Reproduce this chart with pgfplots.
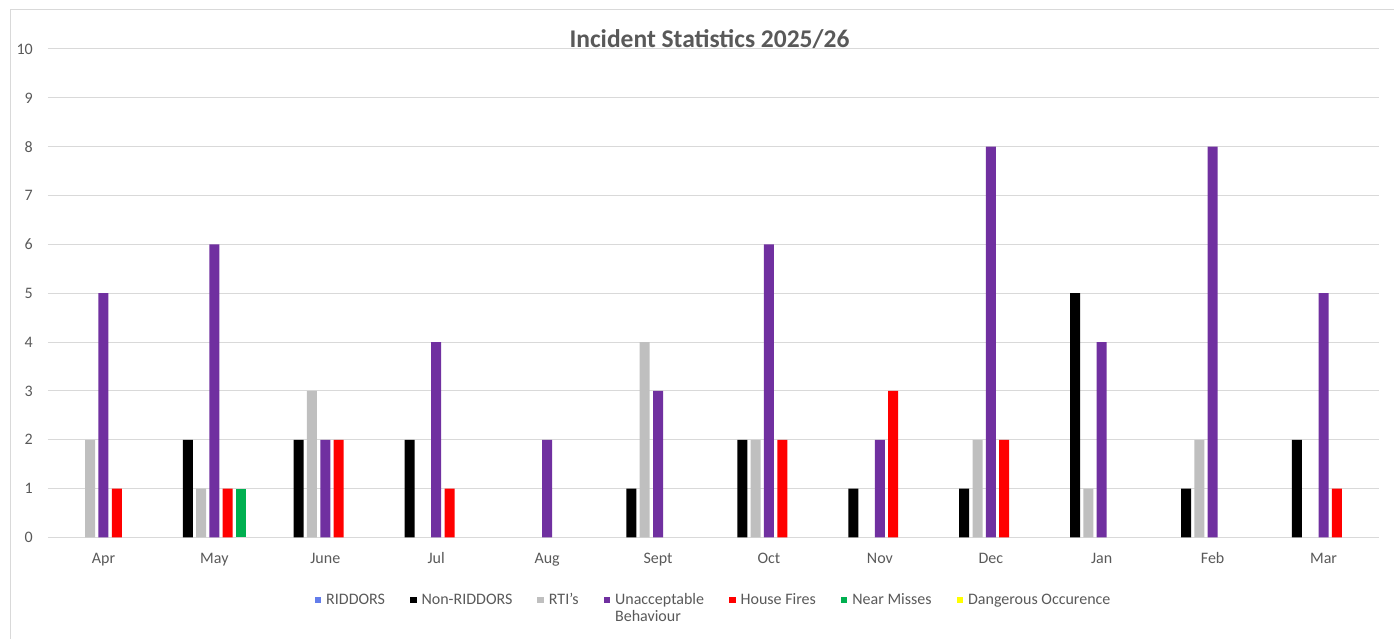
\documentclass[border=0pt]{standalone}
\usepackage{pgfplots}
\pgfplotsset{compat=1.18}
\usepackage{pgfplotstable}
\usepackage{fontspec}
\setmainfont{Carlito}
\definecolor{gridc}{HTML}{D9D9D9}
\definecolor{txt}{HTML}{595959}
\definecolor{cRID}{RGB}{99,125,235}
\definecolor{cNON}{HTML}{000000}
\definecolor{cRTI}{HTML}{BFBFBF}
\definecolor{cUNA}{HTML}{7030A0}
\definecolor{cHOU}{HTML}{FF0000}
\definecolor{cNEAR}{HTML}{00B050}
\definecolor{cDAN}{HTML}{FFFF00}

\pgfplotstableread{
m RID NON RTI UNA HOU NEAR DAN
0 0 0 2 5 1 0 0
1 0 2 1 6 1 1 0
2 0 2 3 2 2 0 0
3 0 2 0 4 1 0 0
4 0 0 0 2 0 0 0
5 0 1 4 3 0 0 0
6 0 2 2 6 2 0 0
7 0 1 0 2 3 0 0
8 0 1 2 8 2 0 0
9 0 5 1 4 0 0 0
10 0 1 2 8 0 0 0
11 0 2 0 5 1 0 0
}\datatable

\begin{document}
\begin{tikzpicture}[x=1bp,y=1bp]
\useasboundingbox (-48,-101.5) rectangle (1346,537.5);
\draw[gridc, line width=1bp] (-37,-130) -- (-37,527.5) -- (1400,527.5);
\begin{axis}[
  at={(0,0)}, anchor=south west,
  scale only axis,
  width=1331bp, height=488.5bp,
  xmin=-0.5, xmax=11.5, ymin=0, ymax=10,
  ytick={0,1,...,10},
  xtick={0,1,...,11},
  xticklabels={Apr,May,June,Jul,Aug,Sept,Oct,Nov,Dec,Jan,Feb,Mar},
  axis line style={draw=none},
  ymajorgrids,
  grid style={gridc, line width=1bp},
  major tick length=0pt,
  /pgf/number format/assume math mode=true,
  tick label style={font=\fontsize{16bp}{19bp}\selectfont, text=txt, inner sep=0pt},
  yticklabel style={anchor=east, xshift=-15bp},
  xticklabel style={anchor=base, yshift=-25.5bp},
  title={Incident Statistics 2025/26},
  title style={font=\fontsize{25.5bp}{30bp}\selectfont\bfseries, text=txt,
    at={(axis description cs:0.497,1)}, anchor=base, inner sep=0pt, yshift=-4bp},
  ybar=3.3bp, bar width=10bp,
  every axis plot/.append style={draw=none},
  unbounded coords=discard,
  nozero/.style={y filter/.expression={y==0 ? nan : y}},
  legend columns=7,
  legend style={draw=none, fill=none, inner sep=0pt, outer sep=0pt,
    at={(axis description cs:0.4993,0)}, anchor=north, yshift=-54.6bp,
    font=\fontsize{16bp}{18bp}\selectfont, text=txt,
    nodes={inner sep=0pt},
    cells={anchor=base west},
    /tikz/every odd column/.append style={column sep=5bp},
    /tikz/every even column/.append style={column sep=25bp}},
  legend image code/.code={\fill[#1, fill opacity=1] (0bp,1.5bp) rectangle (6.5bp,8bp);},
]
\addplot[fill=cRID, fill opacity=0] table[x=m,y=RID]{\datatable};
\addplot[fill=cNON, nozero] table[x=m,y=NON]{\datatable};
\addplot[fill=cRTI, nozero] table[x=m,y=RTI]{\datatable};
\addplot[fill=cUNA, nozero] table[x=m,y=UNA]{\datatable};
\addplot[fill=cHOU, nozero] table[x=m,y=HOU]{\datatable};
\addplot[fill=cNEAR, nozero] table[x=m,y=NEAR]{\datatable};
\addplot[fill=cDAN, fill opacity=0] table[x=m,y=DAN]{\datatable};
\legend{RIDDORS,Non-RIDDORS,RTI's,{\begin{tabular}[t]{@{}l@{}}Unacceptable\\[-1bp]Behaviour\end{tabular}},House Fires,Near Misses,Dangerous Occurence}
\end{axis}
\end{tikzpicture}
\end{document}
